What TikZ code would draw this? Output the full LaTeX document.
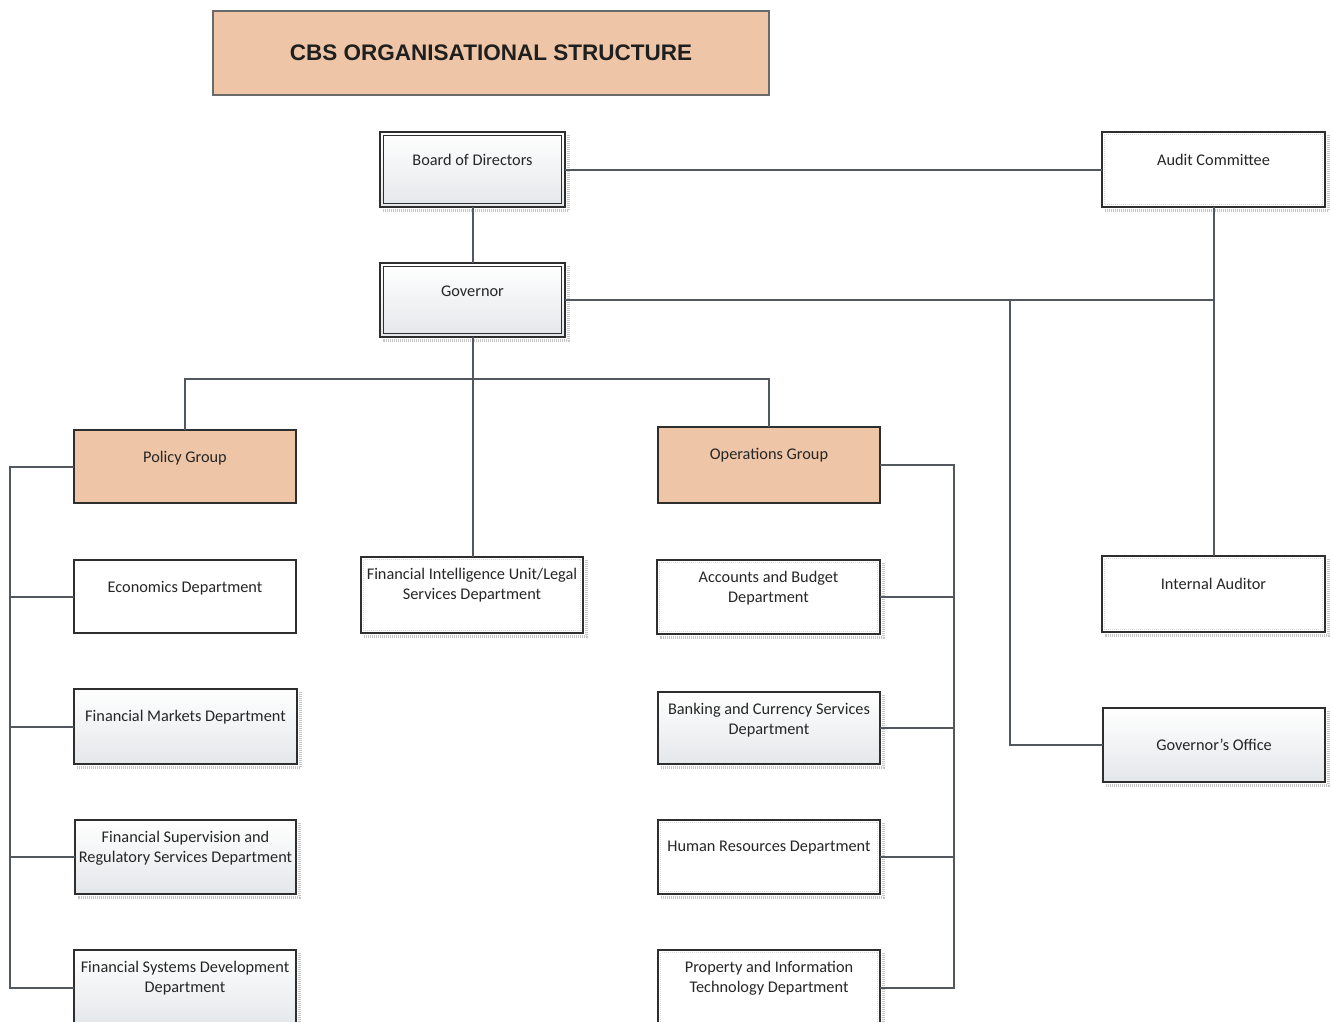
\documentclass[tikz,border=0pt]{standalone}
\usepackage{fontspec}
\setmainfont{Carlito}
\newfontfamily\titlefont{Liberation Sans}
\definecolor{peach}{HTML}{EEC5A6}
\definecolor{boxline}{HTML}{2E2E2E}
\definecolor{connline}{HTML}{52585D}
\definecolor{gradgray}{HTML}{E4E7EA}
\definecolor{titleline}{HTML}{6A6A6A}
\newcommand\boxshadow[1]{%
  \draw[shad] ([xshift=3.6pt,yshift=-3pt]#1.north east) -- ([xshift=3.6pt,yshift=-3.6pt]#1.south east) -- ([xshift=3pt,yshift=-3.6pt]#1.south west);}
\newcommand\boxinset[1]{%
  \draw[innerdot] ([xshift=2.5pt,yshift=-2.5pt]#1.north west) rectangle ([xshift=-2.5pt,yshift=2.5pt]#1.south east);}
\newcommand\dblinset[1]{%
  \draw[boxline, line width=1.2pt] ([xshift=3.5pt,yshift=-3.5pt]#1.north west) rectangle ([xshift=-3.5pt,yshift=3.5pt]#1.south east);}
\begin{document}
\begin{tikzpicture}[x=1pt,y=-1pt,
  orgbox/.style={draw=boxline, line width=1.3pt, rectangle, inner sep=0pt, outer sep=0pt, fill=white},
  grad/.style={top color=white, bottom color=gradgray},
  peachfill/.style={fill=peach},
  lbl/.style={anchor=center, yshift=-28pt, font=\fontsize{16.3}{19.5}\selectfont, align=center, text=black!85, inner sep=0pt},
  conn/.style={draw=connline, line width=2pt},
  shad/.style={draw=gray!45, line width=3pt, dash pattern=on 1pt off 1pt},
  innerdot/.style={draw=gray!30, line width=0.5pt, dash pattern=on 1pt off 1pt}]
\useasboundingbox (0,0) rectangle (1333,1021);

% title
\node[draw=titleline, line width=1.3pt, fill=peach, minimum width=556pt, minimum height=84pt, inner sep=0pt,
  font=\titlefont\bfseries\fontsize{22.5}{26}\selectfont, text=black!88] (title) at (491,53) {CBS ORGANISATIONAL STRUCTURE};

% top level
\node[orgbox, grad, minimum width=185pt, minimum height=75pt, label={[lbl]north:Board of Directors}] (board) at (472.5,169.5) {};
\node[orgbox, grad, minimum width=185pt, minimum height=74pt, label={[lbl]north:Governor}] (gov) at (472.5,300) {};
\node[orgbox, minimum width=223pt, minimum height=75pt, label={[lbl]north:Audit Committee}] (audit) at (1213.5,169.5) {};

% groups
\node[orgbox, peachfill, minimum width=222pt, minimum height=73pt, label={[lbl]north:Policy Group}] (policy) at (185,466.5) {};
\node[orgbox, peachfill, minimum width=222pt, minimum height=76pt, label={[lbl]north:Operations Group}] (ops) at (769,465) {};

% middle row
\node[orgbox, minimum width=222pt, minimum height=73pt, label={[lbl]north:Economics Department}] (econ) at (185,596.5) {};
\node[orgbox, minimum width=222pt, minimum height=76pt, label={[lbl]north:Financial Intelligence Unit/Legal\\Services Department}] (fiu) at (472,595) {};
\node[orgbox, minimum width=223pt, minimum height=74pt, label={[lbl]north:Accounts and Budget\\Department}] (acc) at (768.5,597) {};
\node[orgbox, minimum width=223pt, minimum height=76pt, label={[lbl]north:Internal Auditor}] (ia) at (1213.5,594) {};

\node[orgbox, grad, minimum width=223pt, minimum height=75pt, label={[lbl]north:Financial Markets Department}] (fmkt) at (185.5,726.5) {};
\node[orgbox, grad, minimum width=222pt, minimum height=72pt, label={[lbl]north:Banking and Currency Services\\Department}] (bank) at (769,728) {};
\node[orgbox, grad, minimum width=222pt, minimum height=74pt, label={[lbl, yshift=-9pt]north:Governor's Office}] (goff) at (1214,745) {};

\node[orgbox, grad, minimum width=221pt, minimum height=74pt, label={[lbl]north:Financial Supervision and\\Regulatory Services Department}] (fsup) at (185.5,857) {};
\node[orgbox, minimum width=222pt, minimum height=74pt, label={[lbl]north:Human Resources Department}] (hr) at (769,857) {};

\node[orgbox, grad, minimum width=222pt, minimum height=76pt, label={[lbl]north:Financial Systems Development\\Department}] (fsys) at (185,988) {};
\node[orgbox, minimum width=222pt, minimum height=76pt, label={[lbl]north:Property and Information\\Technology Department}] (prop) at (769,988) {};

% decorations: double borders, insets, shadows
\dblinset{board}
\dblinset{gov}
\foreach \n in {audit,fiu,acc,ia,hr,prop} {\boxinset{\n}}
\foreach \n in {board,gov,audit,fiu,acc,ia,fmkt,bank,goff,fsup,hr,fsys,prop} {\boxshadow{\n}}

% connectors
\coordinate (bus) at (473,379);
\coordinate (gojoin) at (1010,300);
\coordinate (lrail) at (10,466);
\coordinate (rrail) at (954,466);

\draw[conn] (board.east) -- (audit.west);
\draw[conn] (board.south) -- (gov.north);
\draw[conn] (gov.east) -- (audit.south |- gov.east);
\draw[conn] (audit.south) -- (ia.north);
\draw[conn] (gojoin) -- (gojoin |- goff.west) -- (goff.west);
\draw[conn] (gov.south) -- (gov.south |- fiu.north);
\draw[conn] (policy.north) -- (policy.north |- bus) -- (ops.north |- bus) -- (ops.north);

\draw[conn] (policy.west) -- (policy.west -| lrail) -- (fsys.west -| lrail) -- (fsys.west);
\foreach \n in {econ,fmkt,fsup} {\draw[conn] (\n.west -| lrail) -- (\n.west);}

\draw[conn] (ops.east) -- (ops.east -| rrail) -- (prop.east -| rrail) -- (prop.east);
\foreach \n in {acc,bank,hr} {\draw[conn] (\n.east -| rrail) -- (\n.east);}
\end{tikzpicture}
\end{document}
